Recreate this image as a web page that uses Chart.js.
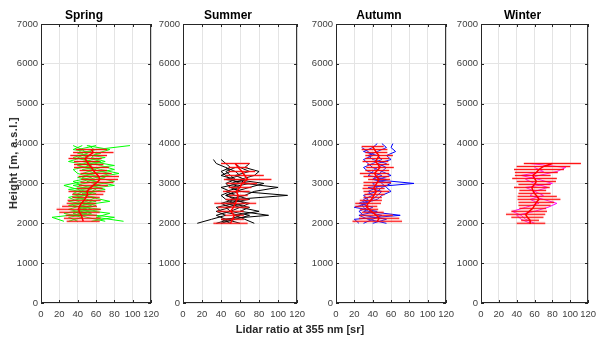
<!DOCTYPE html>
<html>
<head>
<meta charset="utf-8">
<script src="https://cdn.jsdelivr.net/npm/chart.js@4.4.1/dist/chart.umd.min.js"></script>
<style>
  html, body { margin: 0; padding: 0; background: #fff; }
  #wrap { position: relative; width: 600px; height: 340px; overflow: hidden; }
  .panel { position: absolute; top: 0; height: 340px; }
  #ylabel {
    position: absolute; left: 13px; top: 163px;
    transform: translate(-50%, -50%) rotate(-90deg);
    font: bold 11px 'Liberation Sans', Arial, sans-serif; color: #262626;
    white-space: nowrap; letter-spacing: 0.4px;
  }
  #xlabel {
    position: absolute; left: 300px; top: 329px;
    transform: translate(-50%, -50%);
    font: bold 11px 'Liberation Sans', Arial, sans-serif; color: #262626;
    white-space: nowrap;
  }
</style>
</head>
<body>
<div id="wrap">
  <canvas id="spring" class="panel"></canvas>
  <canvas id="summer" class="panel"></canvas>
  <canvas id="autumn" class="panel"></canvas>
  <canvas id="winter" class="panel"></canvas>
  <div id="ylabel">Height [m, a.s.l.]</div>
  <div id="xlabel">Lidar ratio at 355 nm [sr]</div>
</div>
<script>
// axis ticks
const heightTicks = [0, 1000, 2000, 3000, 4000, 5000, 6000, 7000];
const ratioTicks = [0, 20, 40, 60, 80, 100, 120];

// Spring: single profiles (green) and seasonal mean with spread (red)
const springProfileHeights = [2050, 2150, 2250, 2350, 2450, 2550, 2650, 2750, 2850, 2950, 3050, 3150, 3250, 3350, 3450, 3550, 3650, 3750, 3850, 3950];
const springGreen1 = [30, 45, 25, 50, 35, 60, 40, 55, 30, 65, 50, 70, 45, 60, 40, 55, 35, 50, 45, 35];
const springGreen2 = [90, 60, 75, 40, 55, 30, 50, 45, 70, 55, 80, 60, 85, 65, 50, 70, 55, 60, 75, 50];
const springGreen3 = [25, 12, 50, 30, 45, 55, 35, 60, 40, 25, 45, 60, 75, 55, 40, 65, 50, 45, 40, 60];
const springGreen4 = [55, 80, 40, 65, 30, 50, 60, 35, 45, 80, 60, 45, 55, 80, 65, 45, 70, 40, 60, 97];
const springGreen5 = [40, 30, 55, 45, 60, 40, 30, 50, 60, 45, 35, 55, 40, 35, 55, 30, 45, 65, 35, 45];
const springGreen6 = [70, 50, 35, 55, 45, 75, 55, 40, 55, 35, 60, 40, 60, 45, 80, 55, 40, 50, 58, 52];
const springMeanHeights = [2050, 2125, 2200, 2275, 2350, 2425, 2500, 2575, 2650, 2725, 2800, 2875, 2950, 3025, 3100, 3175, 3250, 3325, 3400, 3475, 3550, 3625, 3700, 3775, 3850];
const springMean = [46, 45, 44, 42, 41, 42, 44, 47, 49, 51, 50, 53, 57, 61, 64, 63, 60, 57, 55, 52, 50, 48, 52, 57, 55];
const springSpread = [18, 20, 17, 22, 24, 19, 16, 18, 15, 17, 20, 14, 16, 18, 20, 22, 17, 15, 19, 16, 14, 18, 20, 22, 17];

// Summer
const summerProfileHeights = [2000, 2100, 2200, 2300, 2400, 2500, 2600, 2700, 2800, 2900, 3000, 3100, 3200, 3300, 3400, 3500, 3600];
const summerBlack1 = [15, 30, 45, 35, 50, 40, 55, 45, 60, 50, 45, 55, 40, 50, 45, 35, 32];
const summerBlack2 = [40, 55, 70, 50, 45, 65, 55, 110, 60, 50, 70, 45, 60, 55, 45, null, null];
const summerBlack3 = [60, 45, 35, 50, 60, 45, 70, 55, 45, 60, 50, 65, 55, 70, 60, 55, null];
const summerBlack4 = [75, 65, 55, 80, 60, 70, 50, 65, 75, 100, 65, 60, 75, 80, 65, 70, null];
const summerBlack5 = [35, 50, 60, 40, 35, 55, 45, 40, 50, 40, 60, 50, 45, 40, 50, 45, 40];
const summerBlack6 = [50, 40, 90, 60, 70, 50, 60, 45, 55, 70, 85, 55, 50, 45, 55, null, null];
const summerMeanHeights = [2000, 2100, 2200, 2300, 2400, 2500, 2600, 2700, 2800, 2900, 3000, 3100, 3200, 3300, 3400, 3500];
const summerMean = [50, 52, 54, 50, 53, 55, 57, 58, 56, 60, 62, 68, 65, 62, 58, 55];
const summerSpread = [18, 12, 10, 14, 16, 22, 12, 10, 14, 12, 16, 25, 20, 14, 10, 15];

// Autumn
const autumnProfileHeights = [2000, 2100, 2200, 2300, 2400, 2500, 2600, 2700, 2800, 2900, 3000, 3100, 3200, 3300, 3400, 3500, 3600, 3700, 3800, 3900, 4000];
const autumnBlue1 = [25, 20, 70, 35, 30, 28, 40, 45, 50, 35, 85, 40, 45, 50, 40, 35, 30, 40, 35, 28, null];
const autumnBlue2 = [40, 55, 30, 25, 35, 30, 45, 50, 60, 55, 50, 45, 60, 50, 55, 45, 60, 55, 65, 60, 62];
const autumnBlue3 = [55, 35, 25, 45, 20, 35, 30, 40, 35, 45, 40, 55, 35, 40, 45, 55, 40, 35, 45, 55, 50];
const autumnBlue4 = [30, 40, 50, 30, 40, 25, 35, 30, 45, 50, 60, 40, 50, 35, 30, 40, 50, 45, 30, 40, 45];
const autumnMeanHeights = [2050, 2125, 2200, 2275, 2350, 2425, 2500, 2575, 2650, 2725, 2800, 2875, 2950, 3025, 3100, 3175, 3250, 3325, 3400, 3475, 3550, 3625, 3700, 3775, 3850, 3925];
const autumnMean = [45, 47, 44, 40, 36, 33, 35, 38, 40, 42, 44, 41, 43, 45, 47, 44, 42, 45, 48, 46, 43, 45, 47, 44, 42, 40];
const autumnSpread = [27, 22, 18, 12, 10, 12, 14, 12, 10, 11, 14, 12, 13, 15, 12, 14, 16, 13, 15, 12, 14, 13, 15, 12, 14, 12];

// Winter
const winterProfileHeights = [2000, 2100, 2200, 2300, 2400, 2500, 2600, 2700, 2800, 2900, 3000, 3100, 3200, 3300, 3400, 3500];
const winterMagenta1 = [55, 45, 40, 60, 75, 85, 70, 55, 60, 75, 60, 50, 65, 85, 95, 55];
const winterMagenta2 = [60, 50, 45, 35, 50, 65, 55, 70, 60, 50, 80, 65, 45, 70, 60, null];
const winterMeanHeights = [2000, 2075, 2150, 2225, 2300, 2375, 2450, 2525, 2600, 2675, 2750, 2825, 2900, 2975, 3050, 3125, 3200, 3275, 3350, 3425, 3500];
const winterMean = [56, 55, 52, 50, 54, 58, 60, 62, 65, 63, 60, 58, 57, 60, 62, 60, 58, 62, 65, 70, 80];
const winterSpread = [16, 10, 18, 22, 20, 15, 18, 20, 24, 22, 18, 15, 20, 18, 22, 25, 20, 24, 28, 30, 32];

const narrow = "'Liberation Sans Narrow', 'Liberation Sans', Arial, sans-serif";

const toPoints = (heights, values) =>
  values.map((v, i) => ({ x: v, y: v == null ? null : heights[i] }));

// horizontal bar per level: mean - spread ... mean + spread, broken by a gap
const spreadPoints = (heights, mean, spread) =>
  heights.flatMap((h, i) => [
    { x: mean[i] - spread[i], y: h },
    { x: mean[i] + spread[i], y: h },
    { x: null, y: null }
  ]);

// box round the plot area with inward ticks
const boxPlugin = {
  id: 'box',
  afterDraw(chart) {
    const { ctx, chartArea: a, scales } = chart;
    ctx.save();
    ctx.strokeStyle = '#262626';
    ctx.lineWidth = 1;
    ctx.strokeRect(a.left + 0.5, a.top + 0.5, a.right - a.left - 1, a.bottom - a.top - 1);
    ctx.beginPath();
    scales.x.ticks.forEach(t => {
      const px = Math.round(scales.x.getPixelForValue(t.value)) + 0.5;
      ctx.moveTo(px, a.bottom); ctx.lineTo(px, a.bottom - 3);
      ctx.moveTo(px, a.top); ctx.lineTo(px, a.top + 3);
    });
    scales.y.ticks.forEach(t => {
      const py = Math.round(scales.y.getPixelForValue(t.value)) + 0.5;
      ctx.moveTo(a.left, py); ctx.lineTo(a.left + 3, py);
      ctx.moveTo(a.right, py); ctx.lineTo(a.right - 3, py);
    });
    ctx.stroke();
    ctx.restore();
  }
};

const makePanel = (id, plotLeft, plotRight, title, color, profileHeights, profiles, meanHeights, mean, spread) => {
  const el = document.getElementById(id);
  el.height = 340;
  el.width = plotRight - plotLeft + 38;
  el.style.left = (plotLeft - 30) + 'px';

  const bars = spreadPoints(meanHeights, mean, spread);
  const datasets = [
    { data: toPoints(meanHeights, mean), borderColor: '#ff0000', borderWidth: 1.5 },
    { data: bars, borderColor: 'rgba(255, 0, 0, 0.9)', borderWidth: 1 },
    { data: bars, borderColor: 'rgba(255, 90, 90, 0.3)', borderWidth: 3 }
  ];
  profiles.forEach(p => {
    datasets.push({ data: toPoints(profileHeights, p), borderColor: color, borderWidth: 1 });
  });
  datasets.forEach(d => {
    d.showLine = true;
    d.pointRadius = 0;
    d.spanGaps = false;
    d.fill = false;
  });

  const tickStyle = { color: '#404040', font: { family: narrow, size: 9.5 }, autoSkip: false, callback: v => String(v) };

  new Chart(el, {
    type: 'scatter',
    data: { datasets },
    options: {
      responsive: false,
      animation: false,
      layout: { padding: { left: 0, right: 8, top: 0, bottom: 0 } },
      plugins: {
        legend: { display: false },
        tooltip: { enabled: false },
        title: {
          display: true,
          text: title,
          color: '#000',
          font: { family: narrow, size: 12, weight: 'bold' },
          padding: { top: 8, bottom: 1.6 }
        }
      },
      scales: {
        x: {
          type: 'linear', min: 0, max: 120,
          afterBuildTicks: s => { s.ticks = ratioTicks.map(v => ({ value: v })); },
          afterFit: s => { s.height = 37; },
          grid: { color: '#e4e4e4', drawTicks: false },
          border: { display: false },
          ticks: { ...tickStyle, padding: 6, maxRotation: 0 }
        },
        y: {
          type: 'linear', min: 0, max: 7000,
          afterBuildTicks: s => { s.ticks = heightTicks.map(v => ({ value: v })); },
          afterFit: s => { s.width = 30; },
          grid: { color: '#e4e4e4', drawTicks: false },
          border: { display: false },
          ticks: { ...tickStyle, padding: 3 }
        }
      }
    },
    plugins: [boxPlugin]
  });
};

makePanel('spring', 41, 157, 'Spring', '#00ff00', springProfileHeights,
  [springGreen1, springGreen2, springGreen3, springGreen4, springGreen5, springGreen6],
  springMeanHeights, springMean, springSpread);
makePanel('summer', 183, 303, 'Summer', '#000000', summerProfileHeights,
  [summerBlack1, summerBlack2, summerBlack3, summerBlack4, summerBlack5, summerBlack6],
  summerMeanHeights, summerMean, summerSpread);
makePanel('autumn', 336, 452, 'Autumn', '#0000ff', autumnProfileHeights,
  [autumnBlue1, autumnBlue2, autumnBlue3, autumnBlue4],
  autumnMeanHeights, autumnMean, autumnSpread);
makePanel('winter', 481, 594, 'Winter', '#ff00ff', winterProfileHeights,
  [winterMagenta1, winterMagenta2],
  winterMeanHeights, winterMean, winterSpread);
</script>
</body>
</html>
